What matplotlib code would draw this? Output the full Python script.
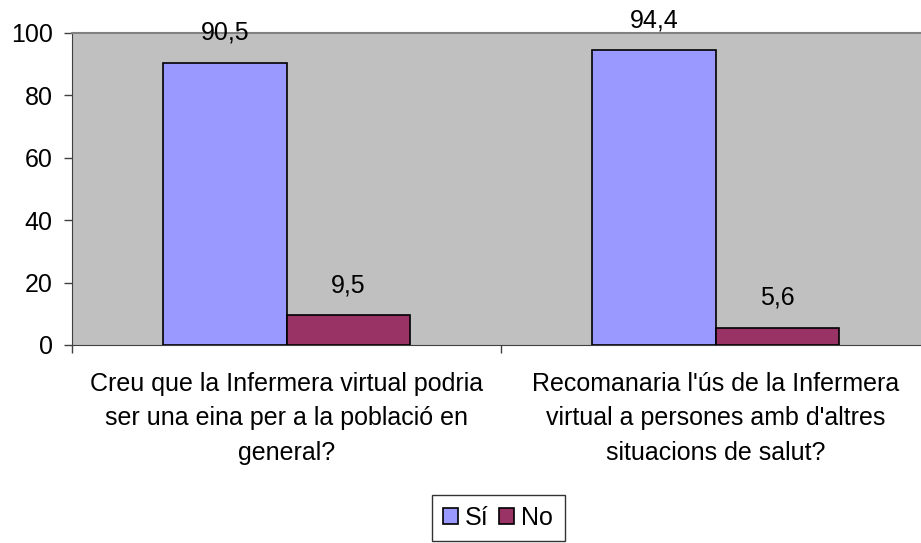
import matplotlib
matplotlib.use("Agg")
import matplotlib.pyplot as plt
import numpy as np

categories = ["Creu que la Infermera virtual podria\nser una eina per a la població en\ngeneral?",
              "Recomanaria l'ús de la Infermera\nvirtual a persones amb d'altres\nsituacions de salut?"]
series_names = ["Sí", "No"]
si_values = [90.5, 94.4]
no_values = [9.5, 5.6]
si_labels = ["90,5", "94,4"]
no_labels = ["9,5", "5,6"]
yticks = [0, 20, 40, 60, 80, 100]

plt.rcParams['font.family'] = ['Liberation Sans', 'DejaVu Sans']
W, H = 921, 543
FS = 18
fig = plt.figure(figsize=(W/100, H/100), dpi=100)
left, right, top, bottom = 72, 930, 33, 345
ax = fig.add_axes([left/W, 1-bottom/H, (right-left)/W, (bottom-top)/H])
ax.set_facecolor('#C0C0C0')

x = np.arange(len(categories))
bw = 0.287
b1 = ax.bar(x - bw/2, si_values, bw, color='#9999FF', edgecolor='black', linewidth=1.2, label=series_names[0], zorder=3)
b2 = ax.bar(x + bw/2, no_values, bw, color='#993366', edgecolor='black', linewidth=1.2, label=series_names[1], zorder=3)
for bars, labs in ((b1, si_labels), (b2, no_labels)):
    for r, t in zip(bars, labs):
        ax.annotate(t, (r.get_x() + r.get_width()/2, r.get_height()), xytext=(0, 18),
                    textcoords='offset pixels', ha='center', va='bottom', fontsize=FS, zorder=4)

ax.set_xlim(-0.5, len(categories) - 0.5)
ax.set_ylim(0, 100)
ax.set_yticks(yticks)
ax.set_yticklabels([str(v) for v in yticks], fontsize=FS)
ax.tick_params(axis='y', length=6, width=1, color='#404040', pad=8)
ax.set_xticks(np.arange(len(categories) + 1) - 0.5)
ax.set_xticklabels([''] * (len(categories) + 1))
ax.tick_params(axis='x', length=6, width=1, color='#404040')
for i, c in enumerate(categories):
    ax.annotate(c, (i, 0), xytext=(0, -27), textcoords='offset pixels',
                ha='center', va='top', fontsize=FS, linespacing=1.55)
for s in ('top', 'right'):
    ax.spines[s].set_color('#808080')
    ax.spines[s].set_linewidth(1.5)
ax.spines['left'].set_color('#404040')
ax.spines['bottom'].set_color('#404040')

fig.legend(handles=[b1, b2], labels=series_names, loc='center', bbox_to_anchor=(498/W, 1-518/H),
           ncol=2, fontsize=FS, frameon=True, fancybox=False, edgecolor='black',
           handlelength=0.6, handleheight=0.6, handletextpad=0.3, columnspacing=0.4,
           borderpad=0.45, borderaxespad=0)

fig.savefig('out.png', dpi=100)
